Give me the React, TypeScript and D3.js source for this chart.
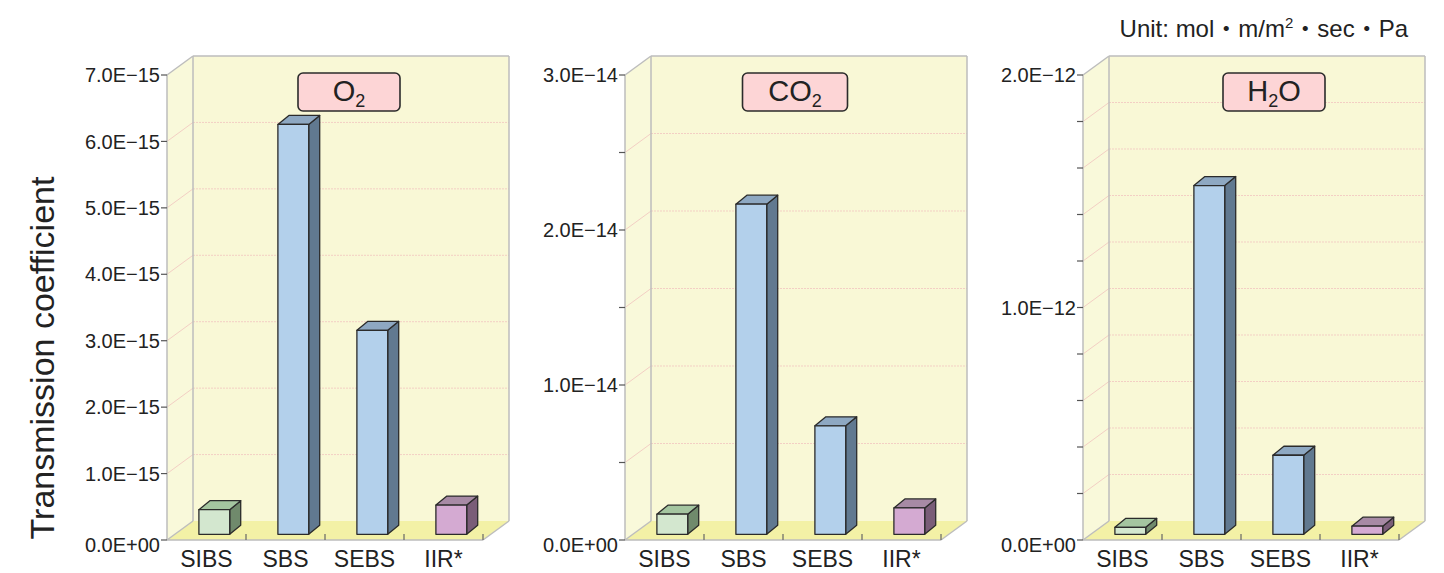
import React from "react";
import * as d3 from "d3";

// Materials and gases
const categories = ["SIBS", "SBS", "SEBS", "IIR*"];
const gasNames = ["O2", "CO2", "H2O"];

// Transmission coefficients (mol·m/m²·sec·Pa)
const o2Values = [3.7e-16, 6.17e-15, 3.07e-15, 4.4e-16];
const co2Values = [1.3e-15, 2.13e-14, 7.0e-15, 1.7e-15];
const h2oValues = [3.0e-14, 1.5e-12, 3.4e-13, 3.5e-14];

// Axis ranges and tick steps per panel
const axisMax = [7e-15, 3e-14, 2e-12];
const majorStep = [1e-15, 1e-14, 1e-12];
const minorStep = [1e-15, 5e-15, 2e-13];

const seriesValues = [o2Values, co2Values, h2oValues];

// Title parts: main text, subscript, trailing text
const titleParts: [string, string, string][] = [
  ["O", "2", ""],
  ["CO", "2", ""],
  ["H", "2", "O"],
];

const unitText = "Unit: mol・m/m";

// Colours for bar faces per material
const frontColors = ["#d3e7cf", "#b3d0eb", "#b3d0eb", "#d4aad2"];
const topColors = ["#a4c5a0", "#8ea8c2", "#8ea8c2", "#a78aa5"];
const sideColors = ["#708a6c", "#617990", "#617990", "#7a5d78"];

const W = 1444;
const H = 573;
const FONT = "'Liberation Sans', Arial, 'Noto Sans CJK JP', sans-serif";

// 3D geometry of each panel
const PANEL_X = [167, 625, 1083];
const PANEL_W = 316;
const Y_TOP = 75;
const Y_ZERO = 540;
const DX = 26;
const DY = -19;
const BAR_F0 = 0.3; // depth fraction of bar front face
const BDX = 11;
const BDY = -9;
const TITLE_CX = [182, 170, 191];
const TITLE_W = [102, 105, 102];

function fmt(v: number): string {
  if (v === 0) return "0.0E+00";
  const s = d3.format(".1e")(v);
  const [m, e] = s.split("e");
  const sign = e[0] === "-" ? "\u2212" : "+";
  return m + "E" + sign + e.slice(1).padStart(2, "0");
}

function Panel({ idx }: { idx: number }) {
  const x0 = PANEL_X[idx];
  const max = axisMax[idx];
  const values = seriesValues[idx];
  const y = d3.scaleLinear().domain([0, max]).range([Y_ZERO, Y_TOP]);
  const x = d3
    .scaleBand<string>()
    .domain(categories)
    .range([x0, x0 + PANEL_W])
    .paddingInner(0.61)
    .paddingOuter(0.305);
  const step = x.step();
  const nMinor = Math.round(max / minorStep[idx]);
  const ticks = d3.range(0, nMinor + 1).map((i) => i * minorStep[idx]);
  const isMajor = (v: number) => {
    const r = v / majorStep[idx];
    return Math.abs(r - Math.round(r)) < 1e-6;
  };
  const edge = "#bdbdbd";
  const xb = x0 + DX;
  const yTopB = Y_TOP + DY;
  const yZeroB = Y_ZERO + DY;
  const [t1, tSub, t2] = titleParts[idx];
  const tcx = x0 + TITLE_CX[idx];
  const tw = TITLE_W[idx];

  return (
    <g>
      {/* left wall */}
      <polygon
        points={`${x0},${Y_ZERO} ${x0},${Y_TOP} ${xb},${yTopB} ${xb},${yZeroB}`}
        fill="#f9f9da"
      />
      {/* back wall */}
      <rect x={xb} y={yTopB} width={PANEL_W} height={Y_ZERO - Y_TOP} fill="#f9f8d6" />
      {/* floor */}
      <polygon
        points={`${x0},${Y_ZERO} ${x0 + PANEL_W},${Y_ZERO} ${xb + PANEL_W},${yZeroB} ${xb},${yZeroB}`}
        fill="#f3f1a6"
      />
      {/* grid lines */}
      {ticks
        .filter((t) => t > 0 && t < max * 0.9999)
        .map((t, i) => (
          <g key={"g" + i}>
            <line x1={x0} y1={y(t)} x2={xb} y2={y(t) + DY} stroke="#f3cfc4" strokeWidth={1} />
            <line
              x1={xb}
              y1={y(t) + DY}
              x2={xb + PANEL_W}
              y2={y(t) + DY}
              stroke="#f3cfc4"
              strokeWidth={1}
              strokeDasharray="2,1"
            />
          </g>
        ))}
      {/* frame edges */}
      <g stroke={edge} strokeWidth={1.5} fill="none">
        <line x1={x0} y1={Y_ZERO} x2={x0} y2={Y_TOP} />
        <line x1={x0} y1={Y_TOP} x2={xb} y2={yTopB} />
        <line x1={x0} y1={Y_ZERO} x2={xb} y2={yZeroB} />
        <line x1={xb} y1={yZeroB} x2={xb} y2={yTopB} />
        <line x1={xb} y1={yTopB} x2={xb + PANEL_W} y2={yTopB} />
        <line x1={xb + PANEL_W} y1={yTopB} x2={xb + PANEL_W} y2={yZeroB} />
        <line x1={x0} y1={Y_ZERO} x2={x0 + PANEL_W} y2={Y_ZERO} />
        <line x1={x0 + PANEL_W} y1={Y_ZERO} x2={xb + PANEL_W} y2={yZeroB} />
      </g>
      {/* y ticks and labels */}
      {ticks.map((t, i) => (
        <g key={"t" + i}>
          <line x1={x0 - 6} y1={y(t)} x2={x0} y2={y(t)} stroke="#555" strokeWidth={1.2} />
          {isMajor(t) && (
            <text
              x={x0 - 7}
              y={t === 0 ? y(t) + 5 : y(t)}
              dy="0.36em"
              textAnchor="end"
              fontSize={20}
              fontFamily={FONT}
              fill="#222"
            >
              {fmt(t)}
            </text>
          )}
        </g>
      ))}
      {/* category ticks */}
      {categories.map((c, i) => (
        <line
          key={"c" + i}
          x1={x0 + step * (i + 1)}
          y1={Y_ZERO}
          x2={x0 + step * (i + 1)}
          y2={Y_ZERO - 6}
          stroke="#666"
          strokeWidth={1.2}
        />
      ))}
      {/* bars */}
      {categories.map((c, i) => {
        const v = values[i];
        const bx = (x(c) as number) + BAR_F0 * DX;
        const bw = x.bandwidth();
        const by0 = Y_ZERO + BAR_F0 * DY;
        const byTop = y(v) + BAR_F0 * DY;
        return (
          <g key={"b" + i} stroke="#2b2b2b" strokeWidth={1.3} strokeLinejoin="round">
            <polygon
              points={`${bx + bw},${by0} ${bx + bw},${byTop} ${bx + bw + BDX},${byTop + BDY} ${bx + bw + BDX},${by0 + BDY}`}
              fill={sideColors[i]}
            />
            <polygon
              points={`${bx},${byTop} ${bx + bw},${byTop} ${bx + bw + BDX},${byTop + BDY} ${bx + BDX},${byTop + BDY}`}
              fill={topColors[i]}
            />
            <rect x={bx} y={byTop} width={bw} height={by0 - byTop} fill={frontColors[i]} />
          </g>
        );
      })}
      {/* category labels */}
      {categories.map((c, i) => (
        <text
          key={"l" + i}
          x={x0 + step * (i + 0.5)}
          y={567}
          textAnchor="middle"
          fontSize={23}
          fontFamily={FONT}
          fill="#222"
        >
          {c}
        </text>
      ))}
      {/* gas title */}
      <rect
        x={tcx - tw / 2}
        y={73}
        width={tw}
        height={38}
        rx={5}
        fill="#fdd5d6"
        stroke="#2b2b2b"
        strokeWidth={1.6}
      />
      <text
        x={tcx}
        y={101}
        textAnchor="middle"
        fontSize={29}
        fontFamily={FONT}
        fill="#222"
        aria-label={gasNames[idx]}
      >
        {t1}
        <tspan fontSize={18} dy={6}>
          {tSub}
        </tspan>
        {t2 && <tspan dy={-6}>{t2}</tspan>}
      </text>
    </g>
  );
}

export default function App() {
  return (
    <svg
      width={W}
      height={H}
      style={{ position: "absolute", left: 0, top: 0, background: "#fff" }}
    >
      <rect width={W} height={H} fill="#fff" />
      {[0, 1, 2].map((i) => (
        <Panel key={i} idx={i} />
      ))}
      <text
        transform={`translate(54,358) rotate(-90)`}
        textAnchor="middle"
        fontSize={34}
        fontFamily={FONT}
        fill="#222"
      >
        Transmission coefficient
      </text>
      <text x={1408} y={37} textAnchor="end" fontSize={24} fontFamily={FONT} fill="#222">
        {unitText}
        <tspan fontSize={15} dy={-9}>
          2
        </tspan>
        <tspan dy={9}>・sec・Pa</tspan>
      </text>
    </svg>
  );
}
